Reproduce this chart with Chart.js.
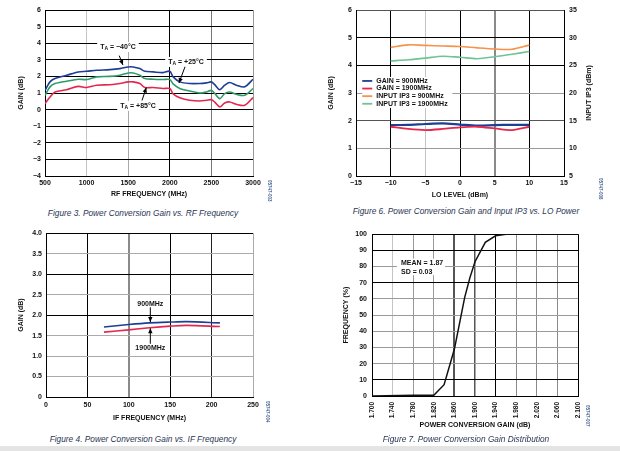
<!DOCTYPE html>
<html><head><meta charset="utf-8">
<script src="https://cdn.jsdelivr.net/npm/chart.js@4.4.0/dist/chart.umd.min.js"></script>
<style>
html,body{margin:0;padding:0;background:#fff;width:620px;height:451px;overflow:hidden;position:relative;font-family:'Liberation Sans',Arial,sans-serif}
canvas{position:absolute;display:block}
.cap{position:absolute;font-style:italic;font-size:8.3px;line-height:10px;color:#2a3654;white-space:nowrap;transform:translateX(-50%)}
.id{position:absolute;font-size:4.5px;line-height:5px;color:#3d5a8a;font-weight:bold;transform:rotate(90deg);transform-origin:0 0;white-space:nowrap}
#strip{position:absolute;left:0;top:446px;width:620px;height:5px;background:#e4e4e4}
</style></head><body>
<canvas id="c1" width="310" height="200" style="left:0;top:0;width:310px;height:200px"></canvas>
<canvas id="c2" width="310" height="200" style="left:310px;top:0;width:310px;height:200px"></canvas>
<canvas id="c3" width="310" height="200" style="left:0;top:225px;width:310px;height:200px"></canvas>
<canvas id="c4" width="310" height="210" style="left:310px;top:225px;width:310px;height:210px"></canvas>
<div class="cap" style="left:143px;top:208px">Figure 3. Power Conversion Gain vs. RF Frequency</div>
<div class="cap" style="left:466px;top:206px">Figure 6. Power Conversion Gain and Input IP3 vs. LO Power</div>
<div class="cap" style="left:143px;top:434px">Figure 4. Power Conversion Gain vs. IF Frequency</div>
<div class="cap" style="left:466px;top:434px">Figure 7. Power Conversion Gain Distribution</div>
<div class="id" style="left:272px;top:180px">05747-003</div>
<div class="id" style="left:603px;top:178px">05747-006</div>
<div class="id" style="left:270px;top:401px">05747-004</div>
<div class="id" style="left:590px;top:405px">05747-007</div>
<div id="strip"></div>
<script>
// ---------- DATA ----------
// Figure 3: gain vs RF frequency
const rfFreq   = [500,560,620,760,900,1000,1120,1280,1400,1500,1560,1640,1700,1800,1920,2000,2040,2120,2240,2360,2440,2500,2540,2600,2660,2720,2800,2900,3000];
const gainM40  = [1.16,1.67,1.87,2.07,2.27,2.31,2.37,2.41,2.47,2.57,2.57,2.47,2.31,2.27,2.23,2.31,1.97,1.67,1.57,1.57,1.61,1.67,1.50,1.20,1.47,1.63,1.47,1.37,1.83];
const gainP25  = [0.86,1.37,1.57,1.71,1.83,1.81,1.97,2.00,2.07,2.21,2.21,2.07,1.87,1.83,1.81,1.81,1.55,1.27,1.12,1.00,1.06,1.16,0.98,0.66,0.96,1.06,0.92,0.86,1.27];
const gainP85  = [0.36,0.76,1.06,1.20,1.40,1.33,1.47,1.50,1.57,1.67,1.67,1.57,1.33,1.33,1.27,1.27,0.95,0.72,0.56,0.52,0.56,0.60,0.45,0.16,0.40,0.46,0.32,0.26,0.72];
const rfTicksX = [500,1000,1500,2000,2500,3000];
const rfTicksY = [-4,-3,-2,-1,0,1,2,3,4,5,6];

// Figure 6: gain and IIP3 vs LO level
const loLevel  = [-10,-7.5,-5,-2.5,0,2.5,5,7.5,10];
const gain900  = [1.84,1.85,1.88,1.90,1.86,1.82,1.84,1.85,1.85];
const gain1900 = [1.78,1.70,1.66,1.70,1.76,1.78,1.72,1.66,1.78];
const ip3_900  = [28.25,28.70,28.60,28.50,28.40,28.15,27.95,27.90,28.65];
const ip3_1900 = [25.80,26.00,26.30,26.65,26.45,26.20,26.55,27.00,27.50];
const loTicksX = [-15,-10,-5,0,5,10,15];
const loTicksY = [0,1,2,3,4,5,6];
const loTicksY2 = [5,10,15,20,25,30,35];
const legend6 = ['GAIN = 900MHz','GAIN = 1900MHz','INPUT IP3 = 900MHz','INPUT IP3 = 1900MHz'];

// Figure 4: gain vs IF frequency
const ifFreq     = [70,100,125,150,170,210];
const gainIf900  = [1.71,1.77,1.81,1.83,1.84,1.81];
const gainIf1900 = [1.585,1.64,1.69,1.73,1.75,1.72];
const ifTicksX = [0,50,100,150,200,250];
const ifTicksY = [0,0.5,1,1.5,2,2.5,3,3.5,4];

// Figure 7: gain distribution (cumulative)
const distGain = [1.700,1.780,1.820,1.840,1.860,1.880,1.890,1.900,1.920,1.940,1.960,2.100];
const distFreq = [0,0.5,0.5,7,29,61,73,83,95,99,100,100];
const distTicksX = [1.70,1.74,1.78,1.82,1.86,1.90,1.94,1.98,2.02,2.06,2.10];
const distTicksY = [0,10,20,30,40,50,60,70,80,90,100];

// ---------- HELPERS ----------
const FONT = "'Liberation Sans', Arial, sans-serif";
const C_BLUE='#1c3f94', C_GREEN='#2f9a68', C_RED='#e5274f', C_ORANGE='#f7924a', C_LGREEN='#6fc394';
const MINUS = '\u2212';
const pts = (xs, ys) => xs.map((x,i)=>({x, y:ys[i]}));
const neg = s => String(s).replace('-', MINUS);

function gridStyle(list, defColor){
  const find = v => list.find(e => Math.abs(e[0]-v) < 1e-6);
  return {
    drawTicks:false,
    color: c => { const e = c.tick && find(c.tick.value); return e ? e[1] : defColor; },
    lineWidth: c => { const e = c.tick && find(c.tick.value); return e ? (e[2]||1) : 1; }
  };
}
function axis(o){
  return {
    type:'linear', position:o.pos, min:o.min, max:o.max,
    afterFit: s => { if (o.w!=null) s.width=o.w; if (o.h!=null) s.height=o.h; },
    afterBuildTicks: s => { s.ticks = o.ticks.map(v=>({value:v})); },
    ticks:{ padding:o.tp, color:'#111', autoSkip:false, maxRotation:o.rot||0, minRotation:o.rot||0,
            font:{family:FONT, size:o.fs||7, weight:'bold'}, callback:o.fmt || (v=>neg(v)) },
    grid: o.grid,
    border:{display:true, color:'#000', width:1},
    title:{display:o.title!=null, text:o.title, color:'#111', font:{family:FONT,size:7,weight:'bold'}, padding:o.titlePad}
  };
}
function line(data, color, yAxisID, w){
  return {data, borderColor:color, backgroundColor:color, borderWidth:w||1.6, pointRadius:0, tension:0.3, yAxisID:yAxisID||'y', fill:false};
}
function arrow(ctx, x1,y1,x2,y2){
  ctx.save(); ctx.strokeStyle='#000'; ctx.fillStyle='#000'; ctx.lineWidth=1;
  ctx.beginPath(); ctx.moveTo(x1,y1); ctx.lineTo(x2,y2); ctx.stroke();
  const a=Math.atan2(y2-y1,x2-x1), L=5, W=2.2;
  ctx.beginPath(); ctx.moveTo(x2,y2);
  ctx.lineTo(x2-L*Math.cos(a)+W*Math.sin(a), y2-L*Math.sin(a)-W*Math.cos(a));
  ctx.lineTo(x2-L*Math.cos(a)-W*Math.sin(a), y2-L*Math.sin(a)+W*Math.cos(a));
  ctx.closePath(); ctx.fill(); ctx.restore();
}
function label(ctx, cx, cy, parts){
  const f='bold 7px '+FONT, fs='bold 5px '+FONT;
  let w=0; const ws=parts.map(p=>{ctx.font=p[1]?fs:f; const m=ctx.measureText(p[0]).width; w+=m; return m;});
  let x=cx-w/2;
  ctx.fillStyle='#fff'; ctx.fillRect(x-3, cy-5, w+6, 10);
  ctx.fillStyle='#111'; ctx.textBaseline='middle'; ctx.textAlign='left';
  parts.forEach((p,i)=>{ ctx.font=p[1]?fs:f; ctx.fillText(p[0], x, cy+(p[1]?2:0)); x+=ws[i]; });
}
const notes = {
  id:'notes',
  afterDatasetsDraw(chart, args, opts){
    const ctx=chart.ctx, sx=chart.scales.x, sy=chart.scales[opts.yId||'y'];
    const X=v=>sx.getPixelForValue(v), Y=v=>sy.getPixelForValue(v);
    ctx.save();
    (opts.items||[]).forEach(it=>{
      if (it.type==='arrow') arrow(ctx, X(it.from[0]),Y(it.from[1]),X(it.to[0]),Y(it.to[1]));
      else if (it.type==='label') label(ctx, X(it.at[0]), Y(it.at[1]), it.parts);
      else if (it.type==='box') {
        const x0=X(it.rect[0]), y0=Y(it.rect[1]), x1=X(it.rect[2]), y1=Y(it.rect[3]);
        ctx.fillStyle='#fff'; ctx.fillRect(x0,y0,x1-x0,y1-y0);
        ctx.fillStyle='#111'; ctx.font='bold 7px '+FONT; ctx.textBaseline='middle'; ctx.textAlign='left';
        it.lines.forEach((t,i)=>ctx.fillText(t, x0+4, y0+4+i*9));
      } else if (it.type==='legend') {
        const x0=X(it.rect[0]), y0=Y(it.rect[1]), x1=X(it.rect[2]), y1=Y(it.rect[3]);
        ctx.fillStyle='#fff'; ctx.fillRect(x0,y0,x1-x0,y1-y0);
        ctx.font='bold 7px '+FONT; ctx.textBaseline='middle'; ctx.textAlign='left';
        it.texts.forEach((t,i)=>{
          const yy=y0+4+i*7.6;
          ctx.strokeStyle=it.colors[i]; ctx.lineWidth=1.8;
          ctx.beginPath(); ctx.moveTo(x0,yy); ctx.lineTo(x0+10,yy); ctx.stroke();
          ctx.fillStyle='#111'; ctx.fillText(t, x0+14, yy);
        });
      }
    });
    if (opts.rightTitle) {
      const s=chart.scales[opts.rightTitle.axis];
      ctx.translate(s.right-opts.rightTitle.offset, (s.top+s.bottom)/2);
      ctx.rotate(-Math.PI/2);
      ctx.font='bold 7px '+FONT; ctx.fillStyle='#111'; ctx.textAlign='center'; ctx.textBaseline='middle';
      ctx.fillText(opts.rightTitle.text,0,0);
    }
    ctx.restore();
  }
};
Chart.register(notes);
const base = (pad) => ({responsive:false, animation:false, layout:{padding:pad},
  plugins:{legend:{display:false}, tooltip:{enabled:false}}});

// ---------- FIGURE 3 ----------
{
  const o=base({left:0,top:10,right:57,bottom:0});
  o.scales={
    x: axis({pos:'bottom',min:500,max:3000,ticks:rfTicksX,h:24,tp:3,title:'RF FREQUENCY (MHz)',titlePad:{bottom:2},
      grid:gridStyle([[500,'#000'],[1000,'#c4c4c4'],[1500,'#a8a8a8'],[2000,'#000'],[2500,'#777'],[3000,'#999']],'#999')}),
    y: axis({pos:'left',min:-4,max:6,ticks:rfTicksY,w:45,tp:4,title:'GAIN (dB)',titlePad:{top:17},
      grid:gridStyle([],'#000')})
  };
  o.plugins.notes={items:[
    {type:'label', at:[1377,3.77], parts:[['T'],['A',1],[' = '+MINUS+'40°C']]},
    {type:'arrow', from:[1392,3.25], to:[1437,2.69]},
    {type:'label', at:[2195,2.87], parts:[['T'],['A',1],[' = +25°C']]},
    {type:'arrow', from:[2183,2.58], to:[2110,1.6]},
    {type:'label', at:[1618,0.22], parts:[['T'],['A',1],[' = +85°C']]},
    {type:'arrow', from:[1666,0.55], to:[1718,1.33]}
  ]};
  new Chart(document.getElementById('c1'),{type:'line',data:{datasets:[
    line(pts(rfFreq,gainM40),C_BLUE), line(pts(rfFreq,gainP25),C_GREEN), line(pts(rfFreq,gainP85),C_RED)
  ]},options:o});
}
// ---------- FIGURE 6 ----------
{
  const o=base({left:0,top:10,right:0,bottom:0});
  o.scales={
    x: axis({pos:'bottom',min:-15,max:15,ticks:loTicksX,h:24,tp:3,title:'LO LEVEL (dBm)',titlePad:{bottom:1},
      grid:gridStyle([[-15,'#000'],[-10,'#000'],[-5,'#c4c4c4'],[0,'#000'],[5,'#8a8a8a',2],[10,'#000'],[15,'#999']],'#999')}),
    y: axis({pos:'left',min:0,max:6,ticks:loTicksY,w:46,tp:4,title:'GAIN (dB)',titlePad:{top:17},
      grid:gridStyle([[6,'#555'],[5,'#000'],[4,'#000'],[3,'#9a9a9a'],[2,'#555'],[1,'#9a9a9a']],'#000')}),
    y1: axis({pos:'right',min:5,max:35,ticks:loTicksY2,w:56,tp:5,title:null,
      grid:{display:false,drawTicks:false}})
  };
  o.plugins.notes={items:[
    {type:'legend', rect:[-14.1,3.58,-1.1,2.46], texts:legend6, colors:[C_BLUE,C_RED,C_ORANGE,C_LGREEN]}
  ], rightTitle:{axis:'y1', text:'INPUT IP3 (dBm)', offset:31}};
  new Chart(document.getElementById('c2'),{type:'line',data:{datasets:[
    line(pts(loLevel,ip3_900),C_ORANGE,'y1'), line(pts(loLevel,ip3_1900),C_LGREEN,'y1'),
    line(pts(loLevel,gain1900),C_RED,'y',1.8), line(pts(loLevel,gain900),C_BLUE,'y',2.2)
  ]},options:o});
}
// ---------- FIGURE 4 ----------
{
  const o=base({left:0,top:7,right:57,bottom:0});
  o.scales={
    x: axis({pos:'bottom',min:0,max:250,ticks:ifTicksX,h:28,tp:4,title:'IF FREQUENCY (MHz)',titlePad:{bottom:3},
      grid:gridStyle([[0,'#000'],[50,'#000'],[100,'#8a8a8a',2],[150,'#000'],[200,'#222'],[250,'#aaa']],'#999')}),
    y: axis({pos:'left',min:0,max:4,ticks:ifTicksY,w:46,tp:4,title:'GAIN (dB)',titlePad:{top:17},
      fmt:v=>v===0?'0':v.toFixed(1),
      grid:gridStyle([[4,'#000'],[3,'#000'],[2,'#000'],[0,'#000']],'#aaa')})
  };
  o.plugins.notes={items:[
    {type:'label', at:[126,2.28], parts:[['900MHz']]},
    {type:'arrow', from:[126,2.19], to:[126,1.83]},
    {type:'label', at:[126,1.19], parts:[['1900MHz']]},
    {type:'arrow', from:[126,1.30], to:[126,1.68]}
  ]};
  new Chart(document.getElementById('c3'),{type:'line',data:{datasets:[
    line(pts(ifFreq,gainIf900),C_BLUE), line(pts(ifFreq,gainIf1900),C_RED)
  ]},options:o});
}
// ---------- FIGURE 7 ----------
{
  const o=base({left:0,top:5,right:42,bottom:0});
  o.scales={
    x: axis({pos:'bottom',min:1.7,max:2.1,ticks:distTicksX,h:39,tp:6,fs:6.5,rot:90,title:'POWER CONVERSION GAIN (dB)',titlePad:{bottom:6},
      fmt:v=>v.toFixed(3),
      grid:gridStyle([[1.7,'#000'],[1.74,'#c4c4c4'],[1.78,'#9a9a9a'],[1.82,'#9a9a9a'],[1.86,'#555',2],[1.9,'#555',1.5],[1.94,'#000'],[2.1,'#000']],'#8a8a8a')}),
    y: axis({pos:'left',min:0,max:100,ticks:distTicksY,w:62,tp:5,title:'FREQUENCY (%)',titlePad:{top:32},
      grid:gridStyle([[100,'#000'],[90,'#000'],[70,'#000'],[10,'#000'],[0,'#000']],'#9a9a9a')})
  };
  o.plugins.notes={items:[
    {type:'box', rect:[1.7485,84.9,1.8417,74.7], lines:['MEAN = 1.87','SD = 0.03']}
  ]};
  new Chart(document.getElementById('c4'),{type:'line',data:{datasets:[
    {data:pts(distGain,distFreq), borderColor:'#111', borderWidth:1.5, pointRadius:0, tension:0, fill:false}
  ]},options:o});
}
</script>
</body></html>
